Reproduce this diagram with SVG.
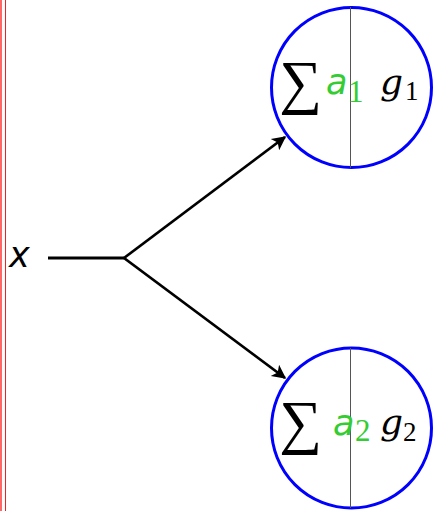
<svg xmlns="http://www.w3.org/2000/svg" width="433" height="511" viewBox="0 0 433 511">
<style>
.node circle{fill:none;stroke:#0000ff;stroke-width:3}
.div{stroke:#555;stroke-width:1}
.sig{font-family:"Liberation Serif",serif;font-size:60px;fill:#000}
.a{font-family:"DejaVu Sans",sans-serif;font-style:italic;font-size:35px;fill:#33cc33}
.g{font-family:"DejaVu Serif",serif;font-style:italic;font-size:36px;fill:#000}
.asub{font-family:"Liberation Serif",serif;font-style:normal;font-size:31px;fill:#33cc33}
.gsub{font-family:"Liberation Serif",serif;font-style:normal;font-size:27px;fill:#000}
.conn{stroke:#000;stroke-width:2.8;fill:none}
</style>
<defs>
<marker id="arrow" viewBox="0 0 10 10" refX="9" refY="5" markerWidth="16" markerHeight="14" markerUnits="userSpaceOnUse" orient="auto">
<path d="M0,0 L10,5 L0,10 L2.5,5 z" fill="#000"/>
</marker>
</defs>
<line x1="1" y1="0" x2="1" y2="511" stroke="#ff6666" stroke-width="2"/>
<line x1="5.5" y1="0" x2="5.5" y2="511" stroke="#ee2222" stroke-width="1"/>
<g id="x">
<text x="9" y="267" style="font-family:'DejaVu Sans',sans-serif;font-style:italic;font-size:35px">x</text>
</g>
<g id="connectors">
<path class="conn" d="M48,258 H124"/>
<path class="conn" d="M124,258 L285,137" marker-end="url(#arrow)"/>
<path class="conn" d="M124,258 L285,378" marker-end="url(#arrow)"/>
</g>
<g id="node1" class="node">
<circle cx="351.5" cy="87.5" r="80"/>
<line class="div" x1="350.5" y1="7" x2="350.5" y2="168"/>
<text class="sig" x="279" y="102">∑</text>
<text class="a" x="326" y="94">a</text>
<text class="asub" x="348" y="102">1</text>
<text class="g" x="380" y="94">g</text>
<text class="gsub" x="405" y="100">1</text>
</g>
<g id="node2" class="node">
<circle cx="351.5" cy="428" r="80"/>
<line class="div" x1="350.5" y1="348" x2="350.5" y2="508"/>
<text class="sig" x="279" y="442">∑</text>
<text class="a" x="333" y="435">a</text>
<text class="asub" x="355" y="441">2</text>
<text class="g" x="380" y="434">g</text>
<text class="gsub" x="403" y="441">2</text>
</g>
</svg>
